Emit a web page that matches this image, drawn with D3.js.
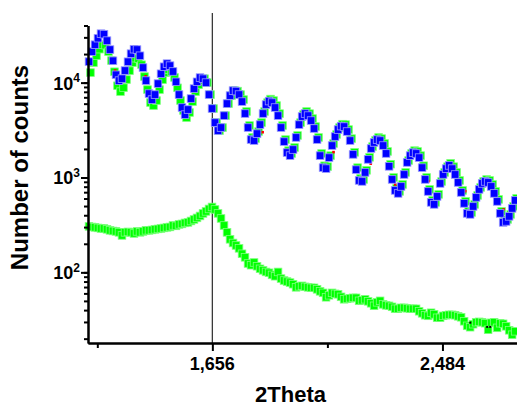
<!DOCTYPE html>
<html>
<head>
<meta charset="utf-8">
<script src="https://cdn.jsdelivr.net/npm/d3@7/dist/d3.min.js"></script>
<style>
  body { margin: 0; background: #fff; }
  svg { display: block; font-family: "Liberation Sans", Arial, sans-serif; }
</style>
</head>
<body>
<svg id="chart" width="517" height="406"></svg>
<script>
// scan grid in 2Theta units: first point and step
const scanStart = 1212;
const scanStep = 10.8;
const fitShift = 5.4;   // second fringe scan sits a touch to the right

// fringe scan, blue
const blueCounts = [
  16640, 21200, 25120, 29400, 32800, 32400, 27700, 22300, 17000, 12100, 10500,
  11000, 13400, 16600, 20200, 22500, 22300, 19200, 14400, 10500, 7660,
  6620, 7480, 9760, 12400, 14700, 15850, 15100, 13100, 10200, 7480,
  5460, 4600, 5200, 6790, 8650, 10200, 11300,
  11000, 10000, 7480, 5330, 3790, 3120, 3360, 4490, 6010, 7300, 8240, 8140, 7480,
  6310, 4720, 3360, 2510, 2450, 2900, 3610, 4720, 5870, 6390,
  6160, 5460, 4490, 3360, 2390, 1830, 1700, 1970, 2640, 3610,
  4390, 4720, 4490, 3980, 3280, 2510, 1700, 1270, 1240, 1620,
  2170, 2700, 3200, 3480, 3440, 3050, 2450, 1750, 1210, 930,
  908, 1130, 1550, 2020, 2340, 2510, 2450, 2170, 1790, 1310,
  953, 730, 679, 804, 1075, 1440, 1700, 1830, 1790, 1620,
  1270, 953, 712, 546, 520, 631, 865, 1075, 1240, 1340,
  1240, 1075, 886, 695, 533, 418, 408, 495, 616, 748,
  865, 908, 886, 804, 679, 559, 418, 336, 344, 389, 472, 573
];

// fringe scan, green
const greenCounts = [
  12750, 16240, 19240, 22520, 25120, 24820, 21220, 17080, 13020, 9270, 8040,
  8840, 10770, 13350, 16240, 18090, 17930, 15440, 11580, 8440, 6160,
  5730, 6470, 8440, 10730, 12720, 13710, 13060, 11330, 8820, 6470,
  5080, 4280, 4840, 6310, 8040, 9490, 10510,
  11000, 10000, 7480, 5330, 3790, 3120, 3360, 4490, 6010, 7300, 8240, 8140, 7480,
  6630, 4960, 3530, 2640, 2570, 3050, 3790, 4960, 6160, 6710,
  6470, 5730, 4710, 3530, 2510, 1920, 1790, 2070, 2770, 3790,
  4610, 4960, 4710, 4180, 3440, 2640, 1790, 1330, 1300, 1700,
  2280, 2840, 3360, 3650, 3610, 3200, 2570, 1840, 1270, 977,
  953, 1190, 1630, 2120, 2460, 2640, 2570, 2280, 1880, 1380,
  1000, 767, 713, 844, 1130, 1510, 1790, 1920, 1880, 1700,
  1330, 1000, 748, 573, 546, 663, 908, 1130, 1300, 1410,
  1300, 1130, 930, 730, 560, 439, 428, 520, 647, 785,
  908, 953, 930, 844, 713, 587, 439, 353, 361, 408, 496, 602
];

// diffuse scan, green (lower curve)
const lowerCounts = [
  305, 301, 298, 294, 290, 290, 284, 277, 273, 270, 264, 245, 264, 267, 264, 257,
  270, 264, 270, 277, 277, 280, 284, 287, 290, 294, 298, 301, 312, 309, 320, 324,
  332, 336, 348, 361, 375, 393, 418, 439, 466, 489, 460, 418, 370, 312, 264, 223,
  204, 192, 179, 157, 144, 124, 119, 127, 116, 109, 105, 101, 99, 94, 91, 101,
  86, 82, 80, 78, 75, 69.5, 71.2, 72.1, 70.4, 69.5, 68.7, 68.7, 66.2, 63.1, 60.8, 54.6,
  57.3, 60.8, 59.4, 58.7, 55.2, 52.0, 52.6, 53.3, 53.9, 53.9, 50.1, 50.7, 52.0, 49.5, 47.2, 44.4,
  48.3, 50.1, 46.0, 44.9, 44.4, 43.3, 41.3, 41.3, 42.3, 42.3, 41.8, 41.3, 41.3, 41.3, 38.9, 37.0,
  35.3, 34.8, 37.5, 36.1, 33.2, 33.2, 34.8, 35.3, 35.7, 35.7, 35.3, 34.4, 33.6, 30.5, 27.3, 26.4,
  28.4, 29.8, 30.1, 29.8, 29.1, 24.8, 29.4, 29.8, 26.0, 29.1, 28.7, 27.0, 24.5, 22.0, 23.9
];

// fit points that peek out between the squares
const redPoints = [
  [1306, 13400], [1416, 11650], [1663, 5290], [1776, 3470], [1837, 3000],
  [1956, 1890], [2092, 1850], [2226, 1400], [2314, 844], [2356, 1094],
  [2434, 914], [2566, 717], [2704, 460]
];
const blackPoints = [[2584, 29.5], [2645, 26.6], [2656, 26.6]];

const xMajor = [1656, 2484];
const xMinor = [1242, 2070];
const yMajor = [100, 1000, 10000];
const markerTheta = 1656;

const svg = d3.select('#chart');
const x = d3.scaleLinear().domain([1208.5, 2753]).range([88, 517.2]);
const y = d3.scaleLog().domain([18, 40000]).range([343, 25.5]);

const plot = svg.append('g');

// vertical marker line
plot.append('line')
  .attr('x1', x(markerTheta)).attr('x2', x(markerTheta))
  .attr('y1', 13).attr('y2', y.range()[0])
  .attr('stroke', '#3a3a3a')
  .attr('stroke-width', 1.3);

function squares (data, xOf, size, fill, stroke) {
  plot.append('g')
    .selectAll('rect')
    .data(data)
    .join('rect')
    .attr('x', (d, i) => xOf(d, i) - size / 2)
    .attr('y', d => y(d.v) - size / 2)
    .attr('width', size)
    .attr('height', size)
    .attr('fill', fill)
    .attr('stroke', stroke || 'none')
    .attr('stroke-width', stroke ? 0.8 : 0);
}

const asPts = arr => arr.map(v => ({ v: v }));
const asPairs = arr => arr.map(p => ({ t: p[0], v: p[1] }));

squares(asPts(lowerCounts), (d, i) => x(scanStart + i * scanStep), 7.6, '#00ff00', '#7dff7d');
squares(asPts(greenCounts), (d, i) => x(scanStart + fitShift + i * scanStep), 7.6, '#00ff00', '#7dff7d');
squares(asPairs(redPoints), d => x(d.t), 2.6, '#ff0000');
squares(asPts(blueCounts), (d, i) => x(scanStart + i * scanStep), 7.6, '#0000ff', '#9a9aff');
squares(asPairs(blackPoints), d => x(d.t), 2, '#000000');

// axes
const yMinorAxis = svg.append('g')
  .attr('transform', 'translate(88,0)')
  .call(d3.axisLeft(y).tickValues(y.ticks()).tickSize(4).tickSizeOuter(0).tickFormat(''));
const yMajorAxis = svg.append('g')
  .attr('transform', 'translate(88,0)')
  .call(d3.axisLeft(y).tickValues(yMajor).tickSize(7).tickSizeOuter(0).tickFormat(''));
const xMinorAxis = svg.append('g')
  .attr('transform', 'translate(0,343)')
  .call(d3.axisBottom(x).tickValues(xMinor).tickSize(5).tickSizeOuter(0).tickFormat(''));
const xMajorAxis = svg.append('g')
  .attr('transform', 'translate(0,343)')
  .call(d3.axisBottom(x).tickValues(xMajor).tickSize(8).tickSizeOuter(0).tickFormat(''));

[yMinorAxis, yMajorAxis, xMinorAxis, xMajorAxis].forEach(g => {
  g.selectAll('path.domain').attr('stroke', '#000').attr('stroke-width', 2);
  g.selectAll('.tick line').attr('stroke', '#000').attr('stroke-width', 2);
});

// y labels 10^n
yMajor.forEach(v => {
  const t = svg.append('text')
    .attr('x', 80)
    .attr('y', y(v) + 7)
    .attr('text-anchor', 'end')
    .attr('font-weight', 'bold')
    .attr('fill', '#000');
  t.append('tspan').attr('font-size', 18).text('10');
  t.append('tspan').attr('font-size', 12).attr('dy', -7.5).text(Math.round(Math.log10(v)));
});

// x labels
const fmt = d3.format(',');
xMajor.forEach(v => {
  svg.append('text')
    .attr('x', x(v))
    .attr('y', 369.5)
    .attr('text-anchor', 'middle')
    .attr('font-size', 18)
    .attr('font-weight', 'bold')
    .text(fmt(v));
});

// axis titles
svg.append('text')
  .attr('transform', 'translate(28,167.5) rotate(-90)')
  .attr('text-anchor', 'middle')
  .attr('font-size', 24)
  .attr('font-weight', 'bold')
  .text('Number of counts');

svg.append('text')
  .attr('x', 290.5)
  .attr('y', 401.5)
  .attr('text-anchor', 'middle')
  .attr('font-size', 22)
  .attr('font-weight', 'bold')
  .text('2Theta');
</script>
</body>
</html>
